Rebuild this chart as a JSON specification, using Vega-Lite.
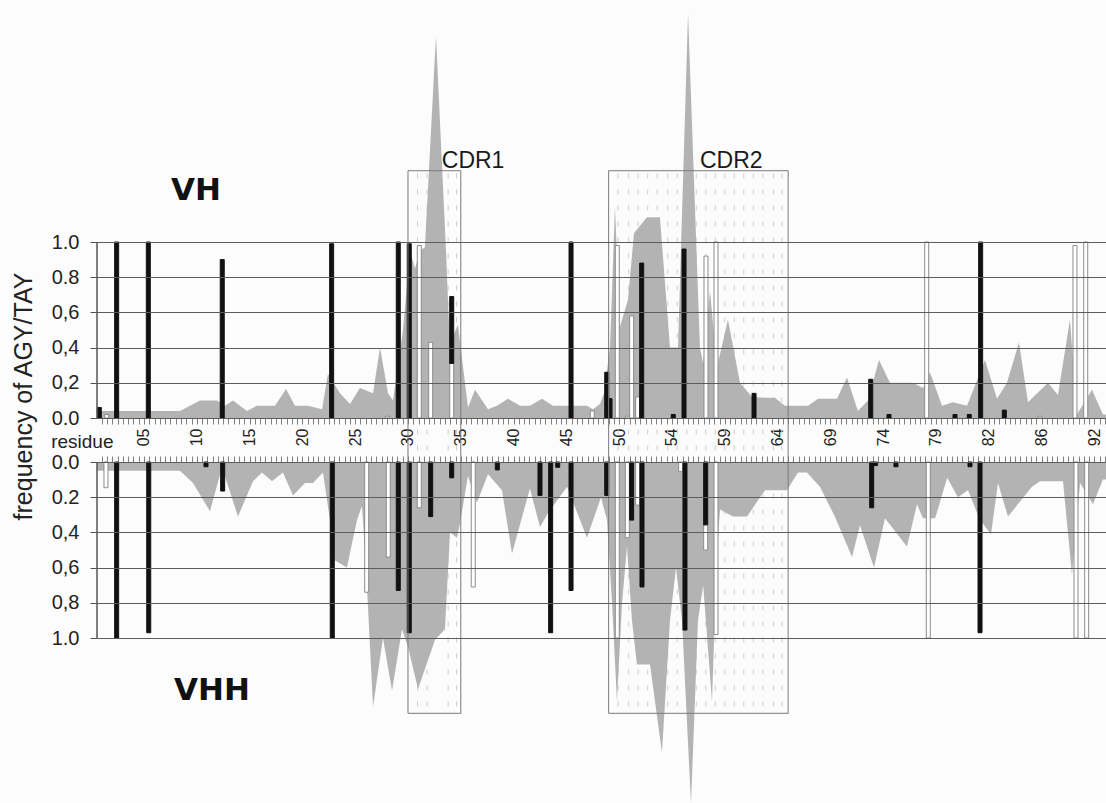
{
  "$schema": "https://vega.github.io/schema/vega-lite/v6.json",
  "width": 1009,
  "height": 803,
  "autosize": {"type": "none"},
  "padding": {"left": 97, "top": 0, "right": 0, "bottom": 0},
  "background": "#fcfcfc",
  "config": {"font": "Liberation Sans", "view": {"stroke": null}},
  "datasets": {
    "profile": [
      {"gene":"VH","pos":0.55,"freq":0.04},{"gene":"VH","pos":8.41,"freq":0.04},{"gene":"VH","pos":10.30,"freq":0.10},{"gene":"VH","pos":11.91,"freq":0.10},{"gene":"VH","pos":12.67,"freq":0.07},{"gene":"VH","pos":13.43,"freq":0.10},{"gene":"VH","pos":14.75,"freq":0.04},{"gene":"VH","pos":15.70,"freq":0.07},{"gene":"VH","pos":17.41,"freq":0.07},{"gene":"VH","pos":18.45,"freq":0.165},{"gene":"VH","pos":19.30,"freq":0.07},{"gene":"VH","pos":20.53,"freq":0.07},{"gene":"VH","pos":21.86,"freq":0.05},{"gene":"VH","pos":22.42,"freq":0.25},{"gene":"VH","pos":23.56,"freq":0.14},{"gene":"VH","pos":24.51,"freq":0.08},{"gene":"VH","pos":25.45,"freq":0.17},{"gene":"VH","pos":26.69,"freq":0.14},{"gene":"VH","pos":27.35,"freq":0.40},{"gene":"VH","pos":28.11,"freq":0.14},{"gene":"VH","pos":28.58,"freq":0.10},{"gene":"VH","pos":29.53,"freq":0.5},{"gene":"VH","pos":30.19,"freq":0.95},{"gene":"VH","pos":30.66,"freq":0.85},{"gene":"VH","pos":31.14,"freq":0.95},{"gene":"VH","pos":31.60,"freq":0.97},{"gene":"VH","pos":32.65,"freq":2.17},{"gene":"VH","pos":33.60,"freq":0.95},{"gene":"VH","pos":33.90,"freq":0.5},{"gene":"VH","pos":34.17,"freq":0.45},{"gene":"VH","pos":34.73,"freq":0.53},{"gene":"VH","pos":35.68,"freq":0.06},{"gene":"VH","pos":36.35,"freq":0.16},{"gene":"VH","pos":37.58,"freq":0.05},{"gene":"VH","pos":38.43,"freq":0.07},{"gene":"VH","pos":39.47,"freq":0.11},{"gene":"VH","pos":40.61,"freq":0.07},{"gene":"VH","pos":41.55,"freq":0.07},{"gene":"VH","pos":42.69,"freq":0.11},{"gene":"VH","pos":43.73,"freq":0.07},{"gene":"VH","pos":45.63,"freq":0.07},{"gene":"VH","pos":46.95,"freq":0.07},{"gene":"VH","pos":47.52,"freq":0.05},{"gene":"VH","pos":48.18,"freq":0.08},{"gene":"VH","pos":48.56,"freq":0.14},{"gene":"VH","pos":49.13,"freq":0.4},{"gene":"VH","pos":49.60,"freq":1.2},{"gene":"VH","pos":50.08,"freq":0.52},{"gene":"VH","pos":50.83,"freq":0.67},{"gene":"VH","pos":51.40,"freq":1.05},{"gene":"VH","pos":52.63,"freq":1.14},{"gene":"VH","pos":53.86,"freq":1.14},{"gene":"VH","pos":54.81,"freq":0.4},{"gene":"VH","pos":55.57,"freq":0.4},{"gene":"VH","pos":56.52,"freq":2.30},{"gene":"VH","pos":57.65,"freq":0.4},{"gene":"VH","pos":57.95,"freq":0.31},{"gene":"VH","pos":58.60,"freq":0.72},{"gene":"VH","pos":59.27,"freq":0.29},{"gene":"VH","pos":60.30,"freq":0.56},{"gene":"VH","pos":61.44,"freq":0.2},{"gene":"VH","pos":62.58,"freq":0.12},{"gene":"VH","pos":63.62,"freq":0.115},{"gene":"VH","pos":64.75,"freq":0.115},{"gene":"VH","pos":65.70,"freq":0.07},{"gene":"VH","pos":67.88,"freq":0.07},{"gene":"VH","pos":68.83,"freq":0.11},{"gene":"VH","pos":70.63,"freq":0.11},{"gene":"VH","pos":71.57,"freq":0.23},{"gene":"VH","pos":72.61,"freq":0.04},{"gene":"VH","pos":73.56,"freq":0.10},{"gene":"VH","pos":74.60,"freq":0.33},{"gene":"VH","pos":75.64,"freq":0.2},{"gene":"VH","pos":77.82,"freq":0.2},{"gene":"VH","pos":78.77,"freq":0.17},{"gene":"VH","pos":79.43,"freq":0.26},{"gene":"VH","pos":80.57,"freq":0.07},{"gene":"VH","pos":81.61,"freq":0.09},{"gene":"VH","pos":82.94,"freq":0.07},{"gene":"VH","pos":84.64,"freq":0.33},{"gene":"VH","pos":85.78,"freq":0.11},{"gene":"VH","pos":86.72,"freq":0.2},{"gene":"VH","pos":87.86,"freq":0.43},{"gene":"VH","pos":88.71,"freq":0.09},{"gene":"VH","pos":90.61,"freq":0.2},{"gene":"VH","pos":91.55,"freq":0.13},{"gene":"VH","pos":92.69,"freq":0.56},{"gene":"VH","pos":93.35,"freq":0.02},{"gene":"VH","pos":94.77,"freq":0.16},{"gene":"VH","pos":95.81,"freq":0.02},{"gene":"VH","pos":96.10,"freq":0.02},
      {"gene":"VHH","pos":0.55,"freq":0.05},{"gene":"VHH","pos":8.41,"freq":0.05},{"gene":"VHH","pos":9.64,"freq":0.12},{"gene":"VHH","pos":11.25,"freq":0.28},{"gene":"VHH","pos":12.39,"freq":0.03},{"gene":"VHH","pos":13.90,"freq":0.31},{"gene":"VHH","pos":15.32,"freq":0.11},{"gene":"VHH","pos":16.17,"freq":0.06},{"gene":"VHH","pos":17.12,"freq":0.11},{"gene":"VHH","pos":18.16,"freq":0.06},{"gene":"VHH","pos":19.11,"freq":0.19},{"gene":"VHH","pos":20.25,"freq":0.12},{"gene":"VHH","pos":21.00,"freq":0.12},{"gene":"VHH","pos":21.95,"freq":0.06},{"gene":"VHH","pos":22.61,"freq":0.33},{"gene":"VHH","pos":23.09,"freq":0.56},{"gene":"VHH","pos":24.22,"freq":0.6},{"gene":"VHH","pos":25.17,"freq":0.33},{"gene":"VHH","pos":25.64,"freq":0.25},{"gene":"VHH","pos":26.02,"freq":0.6},{"gene":"VHH","pos":26.69,"freq":1.39},{"gene":"VHH","pos":27.63,"freq":1.0},{"gene":"VHH","pos":28.49,"freq":1.3},{"gene":"VHH","pos":29.43,"freq":0.95},{"gene":"VHH","pos":30.00,"freq":1.05},{"gene":"VHH","pos":30.95,"freq":1.29},{"gene":"VHH","pos":32.56,"freq":1.01},{"gene":"VHH","pos":33.50,"freq":0.95},{"gene":"VHH","pos":33.98,"freq":0.40},{"gene":"VHH","pos":34.64,"freq":0.43},{"gene":"VHH","pos":34.92,"freq":0.35},{"gene":"VHH","pos":35.68,"freq":0.08},{"gene":"VHH","pos":36.53,"freq":0.23},{"gene":"VHH","pos":37.58,"freq":0.07},{"gene":"VHH","pos":38.90,"freq":0.16},{"gene":"VHH","pos":39.85,"freq":0.52},{"gene":"VHH","pos":41.55,"freq":0.15},{"gene":"VHH","pos":42.50,"freq":0.37},{"gene":"VHH","pos":43.26,"freq":0.29},{"gene":"VHH","pos":45.06,"freq":0.14},{"gene":"VHH","pos":46.95,"freq":0.43},{"gene":"VHH","pos":48.28,"freq":0.2},{"gene":"VHH","pos":48.84,"freq":0.33},{"gene":"VHH","pos":49.32,"freq":0.8},{"gene":"VHH","pos":49.79,"freq":1.36},{"gene":"VHH","pos":50.27,"freq":0.8},{"gene":"VHH","pos":50.74,"freq":0.48},{"gene":"VHH","pos":51.21,"freq":0.9},{"gene":"VHH","pos":51.68,"freq":1.15},{"gene":"VHH","pos":52.92,"freq":1.15},{"gene":"VHH","pos":54.05,"freq":1.65},{"gene":"VHH","pos":54.81,"freq":0.9},{"gene":"VHH","pos":55.38,"freq":0.6},{"gene":"VHH","pos":55.95,"freq":0.9},{"gene":"VHH","pos":56.80,"freq":1.94},{"gene":"VHH","pos":57.46,"freq":0.9},{"gene":"VHH","pos":57.95,"freq":0.7},{"gene":"VHH","pos":58.79,"freq":1.36},{"gene":"VHH","pos":59.27,"freq":0.5},{"gene":"VHH","pos":59.55,"freq":0.27},{"gene":"VHH","pos":60.78,"freq":0.31},{"gene":"VHH","pos":62.11,"freq":0.31},{"gene":"VHH","pos":63.34,"freq":0.2},{"gene":"VHH","pos":63.81,"freq":0.16},{"gene":"VHH","pos":65.89,"freq":0.16},{"gene":"VHH","pos":66.93,"freq":0.06},{"gene":"VHH","pos":67.78,"freq":0.06},{"gene":"VHH","pos":69.01,"freq":0.14},{"gene":"VHH","pos":70.42,"freq":0.31},{"gene":"VHH","pos":72.05,"freq":0.54},{"gene":"VHH","pos":72.80,"freq":0.36},{"gene":"VHH","pos":74.13,"freq":0.6},{"gene":"VHH","pos":75.17,"freq":0.32},{"gene":"VHH","pos":77.25,"freq":0.48},{"gene":"VHH","pos":78.20,"freq":0.24},{"gene":"VHH","pos":78.77,"freq":0.32},{"gene":"VHH","pos":79.92,"freq":0.32},{"gene":"VHH","pos":81.06,"freq":0.09},{"gene":"VHH","pos":82.08,"freq":0.2},{"gene":"VHH","pos":83.03,"freq":0.16},{"gene":"VHH","pos":84.17,"freq":0.33},{"gene":"VHH","pos":85.21,"freq":0.41},{"gene":"VHH","pos":85.87,"freq":0.12},{"gene":"VHH","pos":86.82,"freq":0.31},{"gene":"VHH","pos":89.09,"freq":0.14},{"gene":"VHH","pos":89.85,"freq":0.11},{"gene":"VHH","pos":92.03,"freq":0.11},{"gene":"VHH","pos":92.88,"freq":0.64},{"gene":"VHH","pos":93.64,"freq":0.12},{"gene":"VHH","pos":94.87,"freq":0.24},{"gene":"VHH","pos":95.81,"freq":0.1},{"gene":"VHH","pos":96.10,"freq":0.1}
    ],
    "bars": [
      {"gene":"VH","pos":0.77,"codon":"AGY","lo":0,"hi":0.06},{"gene":"VH","pos":1.47,"codon":"TAY","lo":0,"hi":0.02},{"gene":"VH","pos":2.41,"codon":"AGY","lo":0,"hi":1.0},{"gene":"VH","pos":5.41,"codon":"AGY","lo":0,"hi":1.0},{"gene":"VH","pos":12.41,"codon":"AGY","lo":0,"hi":0.90},{"gene":"VH","pos":22.77,"codon":"AGY","lo":0,"hi":0.99},{"gene":"VH","pos":28.04,"codon":"TAY","lo":0,"hi":0.01},{"gene":"VH","pos":29.08,"codon":"AGY","lo":0,"hi":1.0},{"gene":"VH","pos":30.12,"codon":"AGY","lo":0,"hi":0.99},{"gene":"VH","pos":31.07,"codon":"TAY","lo":0,"hi":0.98},{"gene":"VH","pos":32.15,"codon":"TAY","lo":0,"hi":0.43},{"gene":"VH","pos":34.14,"codon":"TAY","lo":0,"hi":0.31},{"gene":"VH","pos":34.14,"codon":"AGY","lo":0.31,"hi":0.69},{"gene":"VH","pos":45.44,"codon":"AGY","lo":0,"hi":1.0},{"gene":"VH","pos":47.45,"codon":"TAY","lo":0,"hi":0.04},{"gene":"VH","pos":48.82,"codon":"AGY","lo":0,"hi":0.26},{"gene":"VH","pos":49.13,"codon":"AGY","lo":0,"hi":0.11},{"gene":"VH","pos":49.82,"codon":"TAY","lo":0,"hi":0.98},{"gene":"VH","pos":50.77,"codon":"TAY","lo":0,"hi":0.01},{"gene":"VH","pos":51.18,"codon":"TAY","lo":0,"hi":0.58},{"gene":"VH","pos":51.75,"codon":"TAY","lo":0,"hi":0.12},{"gene":"VH","pos":52.13,"codon":"AGY","lo":0,"hi":0.88},{"gene":"VH","pos":55.12,"codon":"AGY","lo":0,"hi":0.02},{"gene":"VH","pos":56.14,"codon":"AGY","lo":0,"hi":0.96},{"gene":"VH","pos":58.22,"codon":"TAY","lo":0,"hi":0.92},{"gene":"VH","pos":59.17,"codon":"TAY","lo":0,"hi":1.0},{"gene":"VH","pos":62.77,"codon":"AGY","lo":0,"hi":0.14},{"gene":"VH","pos":73.82,"codon":"AGY","lo":0,"hi":0.22},{"gene":"VH","pos":75.55,"codon":"AGY","lo":0,"hi":0.02},{"gene":"VH","pos":79.12,"codon":"TAY","lo":0,"hi":1.0},{"gene":"VH","pos":81.80,"codon":"AGY","lo":0,"hi":0.02},{"gene":"VH","pos":83.15,"codon":"AGY","lo":0,"hi":0.02},{"gene":"VH","pos":84.23,"codon":"AGY","lo":0,"hi":1.0},{"gene":"VH","pos":86.47,"codon":"AGY","lo":0,"hi":0.045},{"gene":"VH","pos":89.85,"codon":"TAY","lo":0,"hi":0.01},{"gene":"VH","pos":93.16,"codon":"TAY","lo":0,"hi":0.98},{"gene":"VH","pos":94.18,"codon":"TAY","lo":0,"hi":1.0},
      {"gene":"VHH","pos":1.40,"codon":"TAY","lo":0,"hi":0.146},{"gene":"VHH","pos":2.41,"codon":"AGY","lo":0,"hi":1.0},{"gene":"VHH","pos":5.45,"codon":"AGY","lo":0,"hi":0.97},{"gene":"VHH","pos":10.87,"codon":"AGY","lo":0,"hi":0.027},{"gene":"VHH","pos":12.45,"codon":"AGY","lo":0,"hi":0.165},{"gene":"VHH","pos":22.83,"codon":"AGY","lo":0,"hi":1.0},{"gene":"VHH","pos":26.09,"codon":"TAY","lo":0,"hi":0.74},{"gene":"VHH","pos":28.13,"codon":"TAY","lo":0,"hi":0.54},{"gene":"VHH","pos":29.08,"codon":"AGY","lo":0,"hi":0.73},{"gene":"VHH","pos":30.12,"codon":"AGY","lo":0,"hi":0.97},{"gene":"VHH","pos":31.07,"codon":"TAY","lo":0,"hi":0.26},{"gene":"VHH","pos":32.15,"codon":"AGY","lo":0,"hi":0.31},{"gene":"VHH","pos":34.14,"codon":"AGY","lo":0,"hi":0.09},{"gene":"VHH","pos":36.18,"codon":"TAY","lo":0,"hi":0.71},{"gene":"VHH","pos":38.46,"codon":"AGY","lo":0,"hi":0.045},{"gene":"VHH","pos":42.50,"codon":"AGY","lo":0,"hi":0.19},{"gene":"VHH","pos":43.51,"codon":"AGY","lo":0,"hi":0.97},{"gene":"VHH","pos":44.18,"codon":"AGY","lo":0,"hi":0.03},{"gene":"VHH","pos":45.44,"codon":"AGY","lo":0,"hi":0.73},{"gene":"VHH","pos":48.82,"codon":"AGY","lo":0,"hi":0.19},{"gene":"VHH","pos":49.82,"codon":"TAY","lo":0,"hi":1.0},{"gene":"VHH","pos":50.77,"codon":"TAY","lo":0,"hi":0.43},{"gene":"VHH","pos":51.18,"codon":"AGY","lo":0,"hi":0.33},{"gene":"VHH","pos":51.75,"codon":"TAY","lo":0,"hi":0.245},{"gene":"VHH","pos":52.16,"codon":"AGY","lo":0,"hi":0.71},{"gene":"VHH","pos":55.82,"codon":"TAY","lo":0,"hi":0.055},{"gene":"VHH","pos":56.23,"codon":"AGY","lo":0,"hi":0.955},{"gene":"VHH","pos":58.19,"codon":"AGY","lo":0,"hi":0.36},{"gene":"VHH","pos":58.19,"codon":"TAY","lo":0.36,"hi":0.50},{"gene":"VHH","pos":59.17,"codon":"TAY","lo":0,"hi":0.98},{"gene":"VHH","pos":73.91,"codon":"AGY","lo":0,"hi":0.26},{"gene":"VHH","pos":74.27,"codon":"AGY","lo":0,"hi":0.02},{"gene":"VHH","pos":76.21,"codon":"AGY","lo":0,"hi":0.027},{"gene":"VHH","pos":79.27,"codon":"TAY","lo":0,"hi":1.0},{"gene":"VHH","pos":83.22,"codon":"AGY","lo":0,"hi":0.027},{"gene":"VHH","pos":84.17,"codon":"AGY","lo":0,"hi":0.97},{"gene":"VHH","pos":93.26,"codon":"TAY","lo":0,"hi":1.0},{"gene":"VHH","pos":94.27,"codon":"TAY","lo":0,"hi":1.0}
    ],
    "cdr": [
      {"cdr":"CDR1","start":30,"end":35},
      {"cdr":"CDR2","start":49,"end":66}
    ],
    "cdrcols": [
      {"pos":30.9},{"pos":31.8},{"pos":33.8},{"pos":34.6},
      {"pos":49.9},{"pos":50.9},{"pos":51.8},{"pos":52.7},{"pos":53.6},{"pos":54.6},{"pos":55.5},{"pos":56.4},{"pos":57.3},{"pos":58.2},{"pos":59.1},{"pos":60.0},{"pos":60.9},{"pos":61.8},{"pos":62.7},{"pos":63.6},{"pos":64.6},{"pos":65.4}
    ],
    "one": [{}]
  },
  "layer": [
    {
      "layer": [
        {
          "data": {"name": "cdrcols"},
          "mark": {"type": "rule", "color": "#cdcdcd", "strokeDash": [5, 11], "strokeWidth": 1},
          "encoding": {
            "x": {"field": "pos", "type": "quantitative", "scale": {"domain": [0.55, 96.1], "nice": false, "zero": false, "padding": 0}},
            "y": {"datum": 1.39, "type": "quantitative", "scale": {"domain": [-2.1875, 2.375], "nice": false, "zero": false}},
            "y2": {"datum": -1.665}
          }
        },
        {
          "data": {"name": "profile"},
          "transform": [{"filter": "datum.gene === 'VH'"}],
          "mark": {"type": "area", "color": "#b3b3b3", "interpolate": "linear"},
          "encoding": {
            "x": {
              "field": "pos", "type": "quantitative",
              "scale": {"domain": [0.55, 96.1], "nice": false, "zero": false, "padding": 0},
              "axis": {
                "orient": "bottom", "offset": -385, "tickCount": 190, "grid": false,
                "labelExpr": "datum.value % 5 === 0 && datum.value >= 5 && datum.value <= 95 ? ['05','10','15','20','25','30','35','40','45','50','54','59','64','69','74','79','82','86','92'][datum.value / 5 - 1] : ''",
                "labelAngle": 270, "labelAlign": "right", "labelBaseline": "middle",
                "labelFontSize": 16, "labelPadding": 4, "labelColor": "#222",
                "labelOverlap": false, "labelFlush": false, "labelBound": false,
                "tickSize": 6,
                "tickColor": "#808080", "domainColor": "#a0a0a0",
                "title": "residue", "titleAngle": 0, "titleX": 16, "titleY": 29,
                "titleAlign": "right", "titleBaseline": "alphabetic",
                "titleFontSize": 19, "titleFontWeight": "normal", "titleColor": "#222"
              }
            },
            "y": {
              "field": "freq", "type": "quantitative",
              "scale": {"domain": [-2.1875, 2.375], "nice": false, "zero": false},
              "axis": {
                "orient": "left", "values": [0, 0.2, 0.4, 0.6, 0.8, 1],
                "labelExpr": "datum.value > 0.9 ? '1.0' : datum.value > 0.7 ? '0.8' : datum.value > 0.5 ? '0,6' : datum.value > 0.3 ? '0,4' : datum.value > 0.1 ? '0,2' : '0.0'",
                "grid": true, "gridColor": "#5c5c5c", "gridWidth": 1,
                "domain": false, "tickSize": 7, "tickColor": "#555",
                "labelFontSize": 20, "labelPadding": 11, "labelColor": "#222",
                "zindex": 1,
                "title": "frequency of AGY/TAY", "titleAngle": 270, "titleX": -74, "titleY": 396,
                "titleAlign": "center", "titleBaseline": "middle",
                "titleFontSize": 25, "titleFontWeight": "normal", "titleColor": "#222"
              }
            },
            "y2": {"datum": 0}
          }
        },
        {
          "data": {"name": "bars"},
          "transform": [{"filter": "datum.gene === 'VH'"}],
          "mark": {"type": "bar", "size": 4, "strokeWidth": 1, "orient": "vertical"},
          "encoding": {
            "x": {"field": "pos", "type": "quantitative"},
            "y": {"field": "lo", "type": "quantitative"},
            "y2": {"field": "hi"},
            "color": {"field": "codon", "type": "nominal", "scale": {"domain": ["AGY", "TAY"], "range": ["#111111", "#ffffff"]}, "legend": null},
            "stroke": {"field": "codon", "type": "nominal", "scale": {"domain": ["AGY", "TAY"], "range": ["#111111", "#8c8c8c"]}, "legend": null}
          }
        },
        {
          "data": {"name": "one"},
          "mark": {"type": "rule", "color": "#555", "strokeWidth": 1.5},
          "encoding": {
            "x": {"datum": 0.55, "type": "quantitative"},
            "y": {"datum": 0, "type": "quantitative"},
            "y2": {"datum": 1}
          }
        },
        {
          "data": {"name": "one"},
          "mark": {"type": "text", "text": "VH", "font": "DejaVu Sans", "fontSize": 31, "fontWeight": "bold", "align": "center", "baseline": "alphabetic", "color": "#111"},
          "encoding": {
            "x": {"datum": 9.92, "type": "quantitative"},
            "y": {"datum": 1.24, "type": "quantitative"}
          }
        },
        {
          "data": {"name": "one"},
          "mark": {"type": "text", "text": "CDR1", "fontSize": 23, "align": "left", "baseline": "alphabetic", "color": "#1a1a1a"},
          "encoding": {
            "x": {"datum": 33.2, "type": "quantitative"},
            "y": {"datum": 1.42, "type": "quantitative"}
          }
        },
        {
          "data": {"name": "one"},
          "mark": {"type": "text", "text": "CDR2", "fontSize": 23, "align": "left", "baseline": "alphabetic", "color": "#1a1a1a"},
          "encoding": {
            "x": {"datum": 57.65, "type": "quantitative"},
            "y": {"datum": 1.42, "type": "quantitative"}
          }
        }
      ]
    },
    {
      "layer": [
        {
          "data": {"name": "profile"},
          "transform": [{"filter": "datum.gene === 'VHH'"}],
          "mark": {"type": "area", "color": "#b3b3b3", "interpolate": "linear"},
          "encoding": {
            "x": {
              "field": "pos", "type": "quantitative",
              "scale": {"domain": [0.55, 96.1], "nice": false, "zero": false, "padding": 0},
              "axis": {
                "orient": "top", "offset": -462, "tickCount": 190, "grid": false, "labels": false,
                "tickSize": 6,
                "tickColor": "#808080", "domainColor": "#a0a0a0", "title": null
              }
            },
            "y": {
              "field": "freq", "type": "quantitative",
              "scale": {"domain": [-2.625, 1.9375], "nice": false, "zero": false, "reverse": true},
              "axis": {
                "orient": "left", "values": [0, 0.2, 0.4, 0.6, 0.8, 1],
                "labelExpr": "datum.value > 0.9 ? '1.0' : datum.value > 0.7 ? '0,8' : datum.value > 0.5 ? '0,6' : datum.value > 0.3 ? '0,4' : datum.value > 0.1 ? '0.2' : '0.0'",
                "grid": true, "gridColor": "#5c5c5c", "gridWidth": 1,
                "domain": false, "tickSize": 7, "tickColor": "#555",
                "labelFontSize": 20, "labelPadding": 11, "labelColor": "#222",
                "zindex": 1, "title": null
              }
            },
            "y2": {"datum": 0}
          }
        },
        {
          "data": {"name": "bars"},
          "transform": [{"filter": "datum.gene === 'VHH'"}],
          "mark": {"type": "bar", "size": 4, "strokeWidth": 1, "orient": "vertical"},
          "encoding": {
            "x": {"field": "pos", "type": "quantitative"},
            "y": {"field": "lo", "type": "quantitative"},
            "y2": {"field": "hi"},
            "color": {"field": "codon", "type": "nominal", "scale": {"domain": ["AGY", "TAY"], "range": ["#111111", "#ffffff"]}, "legend": null},
            "stroke": {"field": "codon", "type": "nominal", "scale": {"domain": ["AGY", "TAY"], "range": ["#111111", "#8c8c8c"]}, "legend": null}
          }
        },
        {
          "data": {"name": "one"},
          "mark": {"type": "rule", "color": "#555", "strokeWidth": 1.5},
          "encoding": {
            "x": {"datum": 0.55, "type": "quantitative"},
            "y": {"datum": 0, "type": "quantitative"},
            "y2": {"datum": 1}
          }
        },
        {
          "data": {"name": "cdr"},
          "mark": {"type": "rect", "fillOpacity": 0, "stroke": "#7a7a7a", "strokeWidth": 1},
          "encoding": {
            "x": {"field": "start", "type": "quantitative"},
            "x2": {"field": "end"},
            "y": {"datum": -1.655, "type": "quantitative"},
            "y2": {"datum": 1.428}
          }
        },
        {
          "data": {"name": "one"},
          "mark": {"type": "text", "text": "VHH", "font": "DejaVu Sans", "fontSize": 31, "fontWeight": "bold", "align": "center", "baseline": "alphabetic", "color": "#111"},
          "encoding": {
            "x": {"datum": 11.44, "type": "quantitative"},
            "y": {"datum": 1.352, "type": "quantitative"}
          }
        }
      ]
    }
  ],
  "resolve": {"scale": {"x": "independent", "y": "independent"}}
}
